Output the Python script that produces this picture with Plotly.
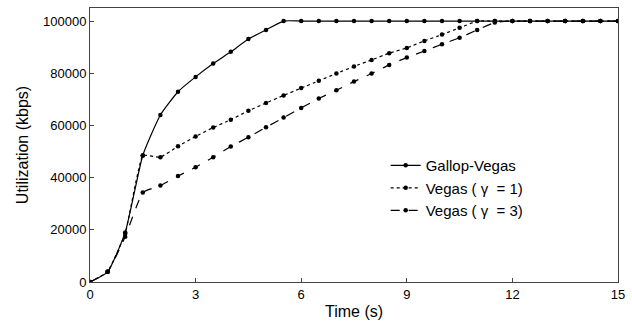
import plotly.graph_objects as go

time_s = [0, 0.5, 1.0, 1.5, 2.0, 2.5, 3.0, 3.5, 4.0, 4.5, 5.0, 5.5, 6.0, 6.5, 7.0, 7.5,
          8.0, 8.5, 9.0, 9.5, 10.0, 10.5, 11.0, 11.5, 12.0, 12.5, 13.0, 13.5, 14.0, 14.5, 15.0]

gallop_vegas = [0, 3900, 19000, 48500, 64000, 72900, 78600, 83700, 88200, 93100, 96600,
                100000, 100000, 100000, 100000, 100000, 100000, 100000, 100000, 100000,
                100000, 100000, 100000, 100000, 100000, 100000, 100000, 100000, 100000,
                100000, 100000]

vegas_g1 = [0, 3900, 18500, 48500, 47800, 52000, 55800, 59200, 62200, 65600, 68600,
            71500, 74300, 77100, 79900, 82600, 85100, 87700, 89700, 92400, 94800, 97400,
            100000, 100000, 100000, 100000, 100000, 100000, 100000, 100000, 100000]

vegas_g3 = [0, 3900, 17300, 34300, 37000, 40600, 44000, 47800, 51900, 55500, 59300,
            63000, 66700, 70300, 73500, 76800, 79900, 83200, 86000, 88500, 91100, 93600,
            96600, 99400, 100000, 100000, 100000, 100000, 100000, 100000, 100000]

x_ticks = [0, 3, 6, 9, 12, 15]
y_ticks = [0, 20000, 40000, 60000, 80000, 100000]

names = ["Gallop-Vegas", "Vegas ( γ  = 1)", "Vegas ( γ  = 3)"]
series = [gallop_vegas, vegas_g1, vegas_g3]
dashes = ["solid", "dot", "dash"]
smooth = [0.5, 0.3, 0.4]

fig = go.Figure()
for nm, ys, dsh, sm in zip(names, series, dashes, smooth):
    fig.add_trace(go.Scatter(
        x=time_s, y=ys, name=nm, mode="lines+markers",
        line=dict(color="black", width=1.2, dash=dsh, shape="spline", smoothing=sm),
        marker=dict(color="black", size=4.5, symbol="circle"),
    ))

fig.update_layout(
    width=632, height=334,
    margin=dict(l=90, r=9, t=7, b=52),
    paper_bgcolor="white", plot_bgcolor="white",
    font=dict(family="Liberation Sans, Arial, sans-serif", size=13, color="black"),
    showlegend=True,
    legend=dict(x=0.56, y=0.485, xanchor="left", yanchor="top",
                bgcolor="rgba(0,0,0,0)", borderwidth=0,
                font=dict(size=15), tracegroupgap=0),
    xaxis=dict(range=[0, 15], tickvals=x_ticks, ticktext=[str(v) for v in x_ticks],
               showgrid=False, zeroline=False, showline=True, mirror=True,
               linecolor="#444", linewidth=1, ticks="inside", ticklen=4,
               tickcolor="#444", tickfont=dict(size=13),
               title=dict(text="Time (s)", standoff=5, font=dict(size=16))),
    yaxis=dict(range=[0, 105000], tickvals=y_ticks, ticktext=[str(v) for v in y_ticks],
               showgrid=False, zeroline=False, showline=True, mirror=True,
               linecolor="#444", linewidth=1, ticks="inside", ticklen=4,
               tickcolor="#444", tickfont=dict(size=13),
               title=dict(text="Utilization (kbps)", standoff=10, font=dict(size=16))),
)

fig.write_html("out.html")
